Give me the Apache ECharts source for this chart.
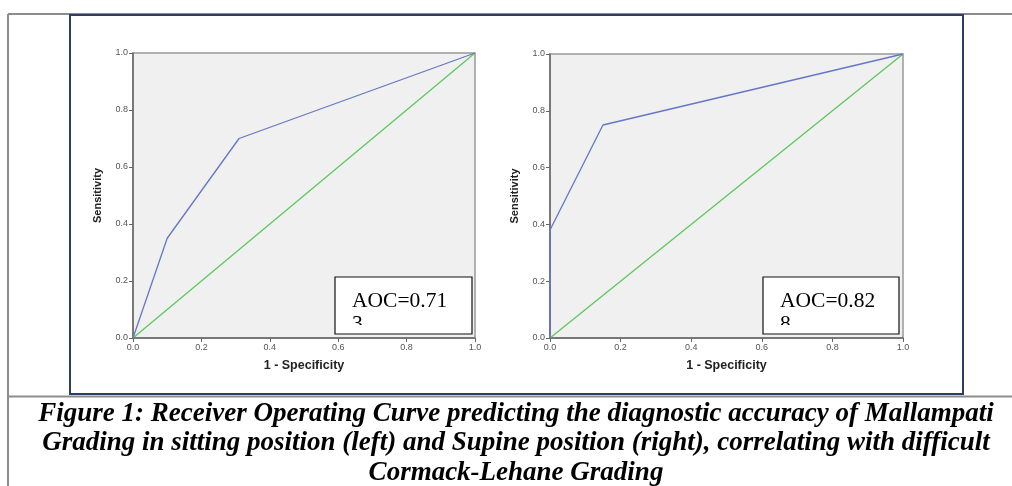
<!DOCTYPE html>
<html>
<head>
<meta charset="utf-8">
<script src="https://cdn.jsdelivr.net/npm/echarts@6/dist/echarts.min.js"></script>
<style>
html,body{margin:0;padding:0;background:#fff;}
#main{width:1012px;height:486px;}
</style>
</head>
<body>
<div id="main"></div>
<script>
// ROC curve, Mallampati in sitting position (left)
var sittingX = [0, 0.1, 0.31, 1];
var sittingY = [0, 0.35, 0.70, 1];
// ROC curve, Mallampati in supine position (right)
var supineX = [0, 0, 0.15, 1];
var supineY = [0, 0.38, 0.75, 1];
// reference diagonal
var refX = [0, 1];
var refY = [0, 1];
var aocText = ['AOC=0.71', 'AOC=0.82'];
var aocCut = ['3', '8'];
var captionLines = [
	'Figure 1: Receiver Operating Curve predicting the diagnostic accuracy of Mallampati',
	'Grading in sitting position (left) and Supine position (right), correlating with difficult',
	'Cormack-Lehane Grading'
];

function pairs(xs, ys){
	var out = [];
	for (var i = 0; i < xs.length; i++) out.push([xs[i], ys[i]]);
	return out;
}

var chart = echarts.init(document.getElementById('main'));

var grids = [
	{left: 133, top: 53, width: 342, height: 285},
	{left: 550, top: 54, width: 353, height: 284}
];

function xAxisFor(i){
	return {
		type: 'value', gridIndex: i, min: 0, max: 1, interval: 0.2,
		name: '1 - Specificity', nameLocation: 'middle', nameGap: 21,
		nameTextStyle: {fontFamily: 'Liberation Sans', fontWeight: 'bold', fontSize: 12.5, color: '#222'},
		axisLine: {show: true, lineStyle: {color: '#666', width: 1.5}},
		axisTick: {show: true, length: 4, lineStyle: {color: '#666'}},
		axisLabel: {fontFamily: 'Liberation Sans', fontSize: 9, color: '#555', margin: 5,
			formatter: function(v){ return v.toFixed(1); }},
		splitLine: {show: false}
	};
}
function yAxisFor(i){
	return {
		type: 'value', gridIndex: i, min: 0, max: 1, interval: 0.2,
		name: 'Sensitivity', nameLocation: 'middle', nameGap: 30, nameRotate: 90,
		nameTextStyle: {fontFamily: 'Liberation Sans', fontWeight: 'bold', fontSize: 11, color: '#222'},
		axisLine: {show: true, lineStyle: {color: '#666', width: 1.5}},
		axisTick: {show: true, length: 4, lineStyle: {color: '#666'}},
		axisLabel: {fontFamily: 'Liberation Sans', fontSize: 9, color: '#555', margin: 5,
			formatter: function(v){ return v.toFixed(1); }},
		splitLine: {show: false}
	};
}

function lineSeries(i, xs, ys, color){
	return {
		type: 'line', xAxisIndex: i, yAxisIndex: i,
		data: pairs(xs, ys), symbol: 'none', silent: true,
		lineStyle: {color: color, width: 1.3}
	};
}

var graphics = [
	// page frame lines
	{type: 'line', shape: {x1: 8, y1: 14, x2: 1012, y2: 14}, style: {stroke: '#8c8c8c', lineWidth: 2}},
	{type: 'line', shape: {x1: 8, y1: 14, x2: 8, y2: 486}, style: {stroke: '#8c8c8c', lineWidth: 2}},
	{type: 'line', shape: {x1: 8, y1: 396.5, x2: 1012, y2: 396.5}, style: {stroke: '#8c8c8c', lineWidth: 2}},
	{type: 'rect', shape: {x: 70, y: 15, width: 893, height: 379}, style: {fill: null, stroke: '#2c3e66', lineWidth: 2}, z: 1}
];

var boxes = [{x: 335, y: 277, w: 137, h: 57}, {x: 763, y: 277, w: 136, h: 57}];
boxes.forEach(function(b, i){
	graphics.push({type: 'rect', shape: {x: b.x, y: b.y, width: b.w, height: b.h},
		style: {fill: '#fff', stroke: 'none'}, z: 10});
	graphics.push({type: 'text', x: b.x + 17, y: b.y + 35, z: 11,
		style: {text: aocText[i], font: '21.5px "Liberation Serif"', fill: '#000', textVerticalAlign: 'bottom'}});
	graphics.push({type: 'text', x: b.x + 17, y: b.y + 58, z: 11,
		style: {text: aocCut[i], font: '21.5px "Liberation Serif"', fill: '#000', textVerticalAlign: 'bottom'}});
	// the second line is cut by the box
	graphics.push({type: 'rect', shape: {x: b.x + 1, y: b.y + 48, width: b.w - 2, height: b.h - 49},
		style: {fill: '#fff', stroke: 'none'}, z: 12});
	graphics.push({type: 'rect', shape: {x: b.x, y: b.y, width: b.w, height: b.h},
		style: {fill: null, stroke: '#111', lineWidth: 1.2}, z: 13});
});

captionLines.forEach(function(t, i){
	graphics.push({type: 'text', x: 516, y: 414 + i * 29.5, z: 5,
		style: {text: t, font: 'italic bold 27px "Liberation Serif"', fill: '#000',
			textAlign: 'center', textVerticalAlign: 'middle'}});
});

var option = {
	animation: false,
	backgroundColor: '#fff',
	grid: grids.map(function(g){
		return {left: g.left, top: g.top, width: g.width, height: g.height, show: true,
			backgroundColor: '#f0f0f0', borderColor: '#999', borderWidth: 1.5};
	}),
	xAxis: [xAxisFor(0), xAxisFor(1)],
	yAxis: [yAxisFor(0), yAxisFor(1)],
	series: [
		lineSeries(0, refX, refY, '#5cc85c'),
		lineSeries(0, sittingX, sittingY, '#6676c6'),
		lineSeries(1, refX, refY, '#5cc85c'),
		lineSeries(1, supineX, supineY, '#6676c6')
	],
	graphic: graphics
};

chart.setOption(option);
</script>
</body>
</html>
